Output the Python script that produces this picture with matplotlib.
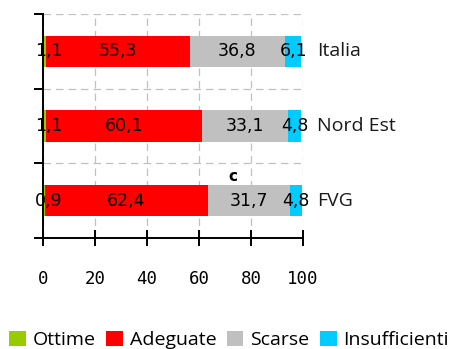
import matplotlib
matplotlib.use("Agg")
import matplotlib.pyplot as plt
import matplotlib.transforms as mtransforms
import numpy as np

categories = ["FVG", "Nord Est", "Italia"]
series_names = ["Ottime", "Adeguate", "Scarse", "Insufficienti"]
ottime = [0.9, 1.1, 1.1]
adeguate = [62.4, 60.1, 55.3]
scarse = [31.7, 33.1, 36.8]
insufficienti = [4.8, 4.8, 6.1]
colors = ["#99cc00", "#ff0000", "#c0c0c0", "#00ccff"]
xticks = [0, 20, 40, 60, 80, 100]

def fmt(v):
    return f"{v:.1f}".replace(".", ",")

W, H = 458, 349
fig = plt.figure(figsize=(W / 100, H / 100), dpi=100)
ax = fig.add_axes([43 / W, 1 - 238 / H, 260 / W, 224 / H])

ypos = np.arange(len(categories))
left = np.zeros(len(categories))
data = [ottime, adeguate, scarse, insufficienti]
handles = []
for i, (vals, c, name) in enumerate(zip(data, colors, series_names)):
    vals = np.array(vals)
    b = ax.barh(ypos, vals, left=left, height=0.42, color=c, label=name, zorder=3)
    handles.append(b)
    for y, l, v in zip(ypos, left, vals):
        xc = l + v / 2
        off = 0
        if i == 0:
            off = 3.5
        ax.annotate(fmt(v), (xc, y), xytext=(off, 0), textcoords="offset points",
                    ha="center", va="center", fontsize=12.5,
                    family="DejaVu Sans", color="black", zorder=5)
    left = left + vals

ax.set_xlim(0, 100)
ax.set_ylim(-0.5, 2.5)
ax.set_xticks(xticks)
ax.set_xticklabels([str(t) for t in xticks], family="DejaVu Sans Mono", fontsize=12.5)
ax.set_yticks([-0.5, 0.5, 1.5, 2.5])
ax.set_yticklabels([])
ax.tick_params(axis="x", direction="inout", length=12, width=1.4, pad=17)
ax.tick_params(axis="y", direction="out", length=6.5, width=1.4)
ax.grid(True, color="#c0c0c0", linestyle=(0, (6, 4)), linewidth=0.9, zorder=0)
ax.set_axisbelow(True)
for s in ["top", "right"]:
    ax.spines[s].set_visible(False)
for s in ["left", "bottom"]:
    ax.spines[s].set_linewidth(1.4)
    ax.spines[s].set_zorder(4)

trans = mtransforms.blended_transform_factory(ax.transAxes, ax.transData)
for y, cat in zip(ypos, categories):
    ax.annotate(cat, (1.0, y), xycoords=trans, xytext=(10, 0), textcoords="offset points",
                ha="left", va="center", fontsize=14, family="Open Sans", color="#1a1a1a",
                annotation_clip=False)

ax.text(0.73, 0.275, "c", transform=ax.transAxes, ha="center", va="center",
        fontsize=11, fontweight="bold", family="DejaVu Sans")

fig.legend(handles=handles, labels=series_names, loc="lower left",
           bbox_to_anchor=(0.02, 0.0), ncol=4, frameon=False,
           prop={"family": "Open Sans", "size": 14},
           handlelength=0.85, handleheight=0.85, handletextpad=0.35,
           columnspacing=0.55, borderaxespad=0, borderpad=0)

fig.savefig("out.png", dpi=100)
